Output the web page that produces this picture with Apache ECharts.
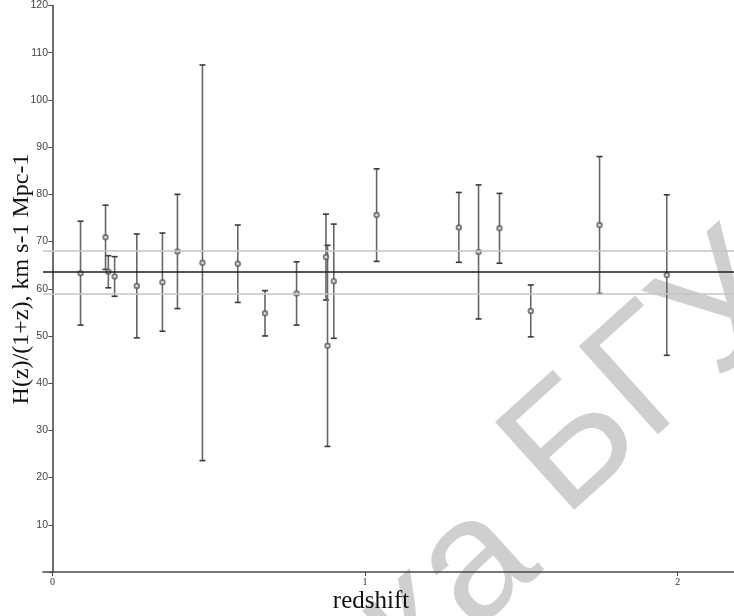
<!DOCTYPE html>
<html>
<head>
<meta charset="utf-8">
<script src="https://cdn.jsdelivr.net/npm/echarts@6/dist/echarts.min.js"></script>
<style>
html,body{margin:0;padding:0;background:#fff;}
#chart{width:734px;height:616px;}
</style>
</head>
<body>
<div id="chart"></div>
<script>
// redshift values
const zValues = [0.09, 0.17, 0.179, 0.199, 0.27, 0.352, 0.4, 0.48, 0.593, 0.68, 0.781, 0.875, 0.88, 0.9, 1.037, 1.3, 1.363, 1.43, 1.53, 1.75, 1.965];
// H(z)/(1+z) values
const hValues = [63.3, 70.9, 63.6, 62.6, 60.6, 61.4, 67.9, 65.5, 65.3, 54.8, 59.0, 66.7, 47.9, 61.6, 75.6, 73.0, 67.8, 72.8, 55.3, 73.5, 62.9];
// 1-sigma errors
const hErrors = [11.0, 6.8, 3.4, 4.2, 11.0, 10.4, 12.1, 41.9, 8.2, 4.8, 6.7, 9.1, 21.3, 12.1, 9.8, 7.4, 14.2, 7.4, 5.5, 14.5, 17.0];
// horizontal reference lines: mean and band
const h0Mean = 63.5;
const h0Upper = 68.0;
const h0Lower = 58.9;
// tick labels
const xTickValues = [0, 1, 2];
const yTickLabels = ['10','20','30','40','50','60','70','80','90','100','110','120'];
const xTitle = 'redshift';
const yTitle = 'H(z)/(1+z), km s-1 Mpc-1';

const chart = echarts.init(document.getElementById('chart'), null, {renderer: 'canvas'});

const errData = zValues.map((z, i) => [z, hValues[i], hErrors[i]]);
const ptData = zValues.map((z, i) => [z, hValues[i]]);
const wmRot = 42 * Math.PI / 180;

const option = {
  animation: false,
  backgroundColor: '#ffffff',
  grid: {left: 43, right: 0, top: 5, bottom: 44, containLabel: false},
  xAxis: {
    type: 'value', min: -0.03, max: 2.18,
    splitLine: {show: false},
    axisLine: {onZero: true, lineStyle: {color: '#4a4a4a', width: 1.6}},
    axisTick: {show: true, length: 4, inside: false, customValues: xTickValues, lineStyle: {color: '#4a4a4a', width: 1}},
    axisLabel: {customValues: xTickValues, margin: 5, fontSize: 10, color: '#333', fontFamily: 'Liberation Serif',
      formatter: v => String(v)}
  },
  yAxis: {
    type: 'value', min: 0, max: 120, interval: 10,
    splitLine: {show: false},
    axisLine: {onZero: true, lineStyle: {color: '#4a4a4a', width: 1.6}},
    axisTick: {show: true, length: 4, inside: false, lineStyle: {color: '#4a4a4a', width: 1}},
    axisLabel: {margin: -5, fontSize: 10.5, color: '#444', fontFamily: 'Liberation Sans Narrow, Liberation Sans',
      formatter: v => { const i = Math.round(v / 10) - 1; return i >= 0 ? yTickLabels[i] : ''; }}
  },
  graphic: [
    {type: 'text', z: -10, x: 532, y: 484, rotation: wmRot,
      style: {text: 'БГУ', fontSize: 172, fontFamily: 'Liberation Sans', fill: '#cfcfcf', align: 'left', verticalAlign: 'middle'}},
    {type: 'text', z: -10, x: 548, y: 502, rotation: wmRot,
      style: {text: 'ка ', fontSize: 172, fontFamily: 'Liberation Sans', fill: '#cfcfcf', align: 'right', verticalAlign: 'middle'}},
    {type: 'text', x: 22, y: 279, rotation: Math.PI / 2,
      style: {text: yTitle, fontSize: 24, fontFamily: 'Liberation Serif', fill: '#111', align: 'center', verticalAlign: 'middle'}},
    {type: 'text', x: 371, y: 601,
      style: {text: xTitle, fontSize: 25, fontFamily: 'Liberation Serif', fill: '#111', align: 'center', verticalAlign: 'middle'}}
  ],
  series: [
    {
      type: 'line', data: [], silent: true,
      markLine: {
        silent: true, symbol: 'none', label: {show: false},
        data: [
          {yAxis: h0Upper, lineStyle: {color: '#c4c4c4', width: 1.6, type: 'solid'}},
          {yAxis: h0Lower, lineStyle: {color: '#c4c4c4', width: 1.6, type: 'solid'}},
          {yAxis: h0Mean, lineStyle: {color: '#1e1e1e', width: 1.6, type: 'solid'}}
        ]
      }
    },
    {
      type: 'custom', data: errData, z: 3,
      encode: {x: 0, y: [1]},
      renderItem: function (params, api) {
        const x = api.value(0), y = api.value(1), e = api.value(2);
        const top = api.coord([x, y + e]);
        const bot = api.coord([x, y - e]);
        const w = 3;
        return {type: 'group', children: [
          {type: 'line', shape: {x1: top[0], y1: top[1], x2: bot[0], y2: bot[1]}, style: {stroke: '#666', lineWidth: 1.6}},
          {type: 'line', shape: {x1: top[0] - w, y1: top[1], x2: top[0] + w, y2: top[1]}, style: {stroke: '#3a3a3a', lineWidth: 1.6}},
          {type: 'line', shape: {x1: bot[0] - w, y1: bot[1], x2: bot[0] + w, y2: bot[1]}, style: {stroke: '#3a3a3a', lineWidth: 1.6}}
        ]};
      }
    },
    {
      type: 'scatter', data: ptData, z: 4,
      symbol: 'emptyCircle', symbolSize: 4.5,
      itemStyle: {color: '#606060', borderWidth: 1}
    }
  ]
};
chart.setOption(option);
</script>
</body>
</html>
